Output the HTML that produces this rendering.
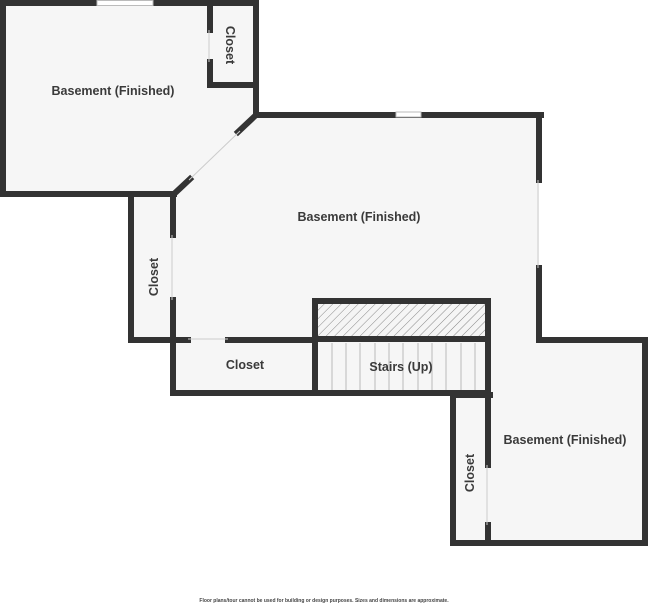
<!DOCTYPE html>
<html><head><style>html,body{margin:0;padding:0;background:#fff;width:648px;height:603px;overflow:hidden}</style></head>
<body>
<svg width="648" height="603" viewBox="0 0 648 603" xmlns="http://www.w3.org/2000/svg" font-family="Liberation Sans, sans-serif">
<defs>
<pattern id="h" width="6" height="6" patternUnits="userSpaceOnUse" patternTransform="rotate(45)">
<rect width="6" height="6" fill="#f5f5f5"/><line x1="0" y1="0" x2="0" y2="6" stroke="#888" stroke-width="1"/>
</pattern>
</defs>
<g fill="#f6f6f6">
<polygon points="3,3 256,3 256,115 174,194 3,194"/>
<polygon points="256,115 539,115 539,340 645,340 645,543 453,543 453,393 173,393 173,340 131,340 131,194 174,194"/>
</g>
<rect x="318" y="304" width="168" height="33" fill="url(#h)"/>
<g stroke="#bbb" stroke-width="1">
<line x1="332" y1="343" x2="332" y2="390"/><line x1="346" y1="343" x2="346" y2="390"/><line x1="360" y1="343" x2="360" y2="390"/><line x1="375" y1="343" x2="375" y2="390"/><line x1="389" y1="343" x2="389" y2="390"/><line x1="403" y1="343" x2="403" y2="390"/><line x1="418" y1="343" x2="418" y2="390"/><line x1="432" y1="343" x2="432" y2="390"/><line x1="446" y1="343" x2="446" y2="390"/><line x1="461" y1="343" x2="461" y2="390"/><line x1="475" y1="343" x2="475" y2="390"/>
</g>
<g stroke="#333" stroke-width="6" fill="none" stroke-linecap="square">
<polyline points="95,3 3,3 3,194 174,194"/>
<polyline points="155,3 256,3 256,115 541,115"/>
<line x1="210" y1="3" x2="210" y2="30"/>
<polyline points="210,62 210,85 256,85"/>
<line x1="256" y1="115" x2="238" y2="132"/>
<line x1="174" y1="194" x2="190" y2="179"/>
<line x1="539" y1="115" x2="539" y2="180"/>
<polyline points="539,268 539,340 645,340 645,543 453,543 453,395 490,395"/>
<line x1="488" y1="395" x2="488" y2="465"/>
<line x1="488" y1="525" x2="488" y2="543"/>
<polyline points="131,194 131,340 188,340"/>
<line x1="228" y1="340" x2="315" y2="340"/>
<line x1="173" y1="194" x2="173" y2="235"/>
<polyline points="173,300 173,393 488,393"/>
<rect x="315" y="301" width="173" height="92"/>
<line x1="315" y1="339" x2="488" y2="339"/>
</g>
<g stroke="#bbb" stroke-width="1" fill="#fff">
<rect x="97" y="0.5" width="56" height="5"/>
<rect x="396" y="112" width="25" height="5"/>
</g>
<g stroke="#ccc" stroke-width="1" fill="none">
<line x1="240" y1="131" x2="189" y2="180"/>
<line x1="538" y1="180" x2="538" y2="268"/>
<line x1="172" y1="235" x2="172" y2="300"/>
<line x1="188" y1="339" x2="228" y2="339"/>
<line x1="487" y1="465" x2="487" y2="525"/>
<line x1="209" y1="30" x2="209" y2="62"/>
</g>
<g fill="#3a3a3a" font-weight="bold" font-size="12.5">
<text x="113" y="95" text-anchor="middle">Basement (Finished)</text>
<text x="359" y="221" text-anchor="middle">Basement (Finished)</text>
<text x="565" y="444" text-anchor="middle">Basement (Finished)</text>
<text x="245" y="369" text-anchor="middle">Closet</text>
<text x="401" y="371" text-anchor="middle">Stairs (Up)</text>
<text transform="translate(226,45) rotate(90)" text-anchor="middle">Closet</text>
<text transform="translate(158,277) rotate(-90)" text-anchor="middle">Closet</text>
<text transform="translate(474,473) rotate(-90)" text-anchor="middle">Closet</text>
</g>
<text x="324" y="602" font-size="5" fill="#444" font-weight="bold" text-anchor="middle">Floor plans/tour cannot be used for building or design purposes. Sizes and dimensions are approximate.</text>
</svg>
</body></html>
